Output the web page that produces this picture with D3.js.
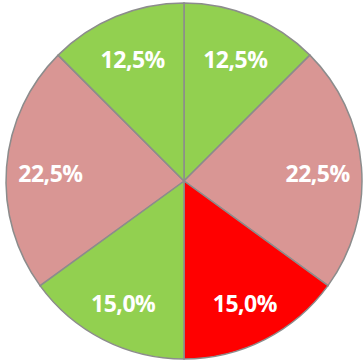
<!DOCTYPE html>
<html>
<head>
<meta charset="utf-8">
<script src="https://cdn.jsdelivr.net/npm/d3@7"></script>
<style>
  html, body { margin: 0; padding: 0; background: #fff; }
  svg { display: block; }
</style>
</head>
<body>
<svg id="chart" width="364" height="361"></svg>
<script>
// Slice shares in percent, clockwise from 12 o'clock
const categories = ["A", "B", "C", "D", "E", "F"];
const values = [12.5, 22.5, 15.0, 15.0, 22.5, 12.5];
const labels = ["12,5%", "22,5%", "15,0%", "15,0%", "22,5%", "12,5%"];
const colors = ["#92D050", "#D99694", "#FF0000", "#92D050", "#D99694", "#92D050"];

const width = 364, height = 361;
const cx = 184, cy = 181, radius = 178;
const labelRadius = 134;
const labelShift = 3;

const svg = d3.select("#chart");
const g = svg.append("g").attr("transform", `translate(${cx},${cy})`);

const pie = d3.pie().sort(null).value(d => d.value);
const data = pie(categories.map((c, i) => ({ cat: c, value: values[i], label: labels[i], color: colors[i] })));

const arc = d3.arc().innerRadius(0).outerRadius(radius);
const labelArc = d3.arc().innerRadius(labelRadius).outerRadius(labelRadius);

g.selectAll("path.slice")
  .data(data)
  .join("path")
  .attr("class", "slice")
  .attr("d", arc)
  .attr("fill", d => d.data.color)
  .attr("stroke", "#8c8c8c")
  .attr("stroke-width", 1.5);

g.selectAll("text.lbl")
  .data(data)
  .join("text")
  .attr("class", "lbl")
  .attr("transform", d => {
    const [x, y] = labelArc.centroid(d);
    return `translate(${x},${y + labelShift})`;
  })
  .attr("text-anchor", "middle")
  .attr("dy", "0.36em")
  .attr("fill", "#fff")
  .style("font-family", "'Open Sans', sans-serif")
  .style("font-weight", "bold")
  .style("font-size", "23px")
  .style("letter-spacing", "-0.5px")
  .text(d => d.data.label);
</script>
</body>
</html>
